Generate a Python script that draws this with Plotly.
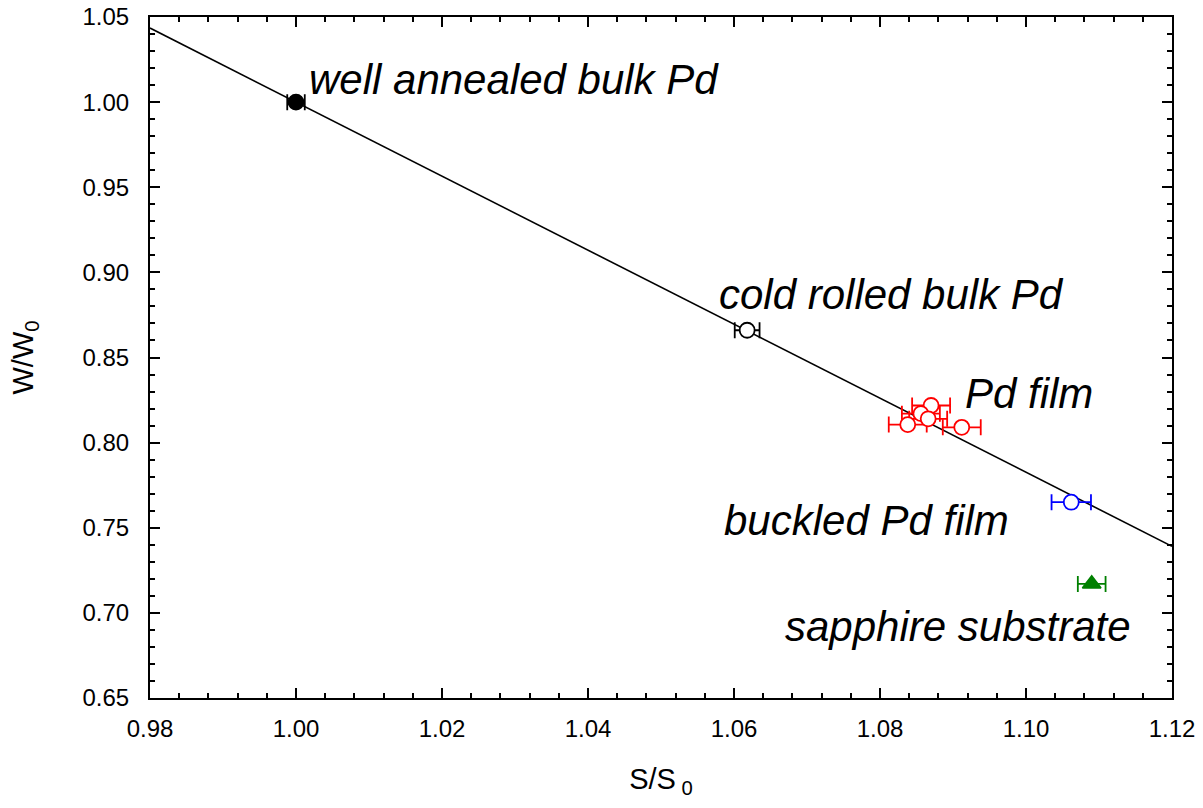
import plotly.graph_objects as go

# Normalised hardness W/W0 against normalised surface S/S0
annealed_s = [1.000]
annealed_w = [1.000]
annealed_err = [0.0012]

cold_s = [1.0618]
cold_w = [0.866]
cold_err = [0.0017]

film_s = [1.0870, 1.0856, 1.0866, 1.0838, 1.0912]
film_w = [0.8218, 0.8170, 0.8140, 0.8106, 0.8090]
film_err = [0.0026, 0.0026, 0.0026, 0.0026, 0.0026]

buckled_s = [1.1062]
buckled_w = [0.7650]
buckled_err = [0.0027]

sapphire_s = [1.1090]
sapphire_w = [0.7170]
sapphire_err = [0.0019]

# linear relation drawn across the full S/S0 range
fit_s = [0.98, 1.12]
fit_w = [1.0435, 0.7391]

x_ticks = [0.98, 1.00, 1.02, 1.04, 1.06, 1.08, 1.10, 1.12]
y_ticks = [0.65, 0.70, 0.75, 0.80, 0.85, 0.90, 0.95, 1.00, 1.05]

labels = [
    ("well annealed bulk Pd", 1.0015, 1.013),
    ("cold rolled bulk Pd", 1.0577, 0.887),
    ("Pd film", 1.0914, 0.829),
    ("buckled Pd film", 1.0584, 0.754),
    ("sapphire substrate", 1.0667, 0.692),
]

FONT = "Liberation Sans, Arial, sans-serif"

fig = go.Figure()

fig.add_trace(go.Scatter(x=fit_s, y=fit_w, mode="lines",
                         line=dict(color="black", width=1.6), showlegend=False))


def add_points(xs, ys, errs, color, symbol, fill, size=15):
    fig.add_trace(go.Scatter(
        x=xs, y=ys, mode="markers", showlegend=False,
        error_x=dict(type="data", array=errs, visible=True, color=color,
                     thickness=1.8, width=8),
        marker=dict(symbol=symbol, size=size, color=fill,
                    line=dict(color=color, width=1.8)),
    ))


add_points(annealed_s, annealed_w, annealed_err, "black", "circle", "black")
add_points(cold_s, cold_w, cold_err, "black", "circle", "white")
add_points(film_s, film_w, film_err, "red", "circle", "white")
add_points(buckled_s, buckled_w, buckled_err, "blue", "circle", "white")
add_points(sapphire_s, sapphire_w, sapphire_err, "green", "triangle-up", "green", 16)

for text, xs, ys in labels:
    fig.add_annotation(x=xs, y=ys, text=f"<i>{text}</i>", showarrow=False,
                       xanchor="left", yanchor="middle",
                       font=dict(family=FONT, size=42, color="black"))

axis_common = dict(
    showgrid=False, zeroline=False, showline=True, linecolor="black",
    linewidth=2, mirror="ticks", ticks="inside", ticklen=10, tickwidth=2,
    tickcolor="black", tickfont=dict(family=FONT, size=24, color="black"),
    tickformat=".2f", automargin=False,
)

fig.update_xaxes(
    range=[0.98, 1.12], tickvals=x_ticks, ticklabelstandoff=8,
    minor=dict(dtick=0.004, tick0=0.98, ticks="inside", ticklen=5,
               tickwidth=1.5, tickcolor="black"),
    title=dict(text="S/S<sub> 0</sub>", font=dict(family=FONT, size=29, color="black"),
               standoff=28),
    **axis_common,
)
fig.update_yaxes(
    range=[0.65, 1.05], tickvals=y_ticks, ticklabelstandoff=14,
    minor=dict(dtick=0.01, tick0=0.65, ticks="inside", ticklen=5,
               tickwidth=1.5, tickcolor="black"),
    title=dict(text="W/W<sub>0</sub>", font=dict(family=FONT, size=29, color="black"),
               standoff=40),
    **axis_common,
)

fig.update_layout(
    width=1203, height=808,
    margin=dict(l=150, r=31, t=17, b=110),
    plot_bgcolor="white", paper_bgcolor="white",
    font=dict(family=FONT, color="black"),
)

fig.write_html("out.html")
